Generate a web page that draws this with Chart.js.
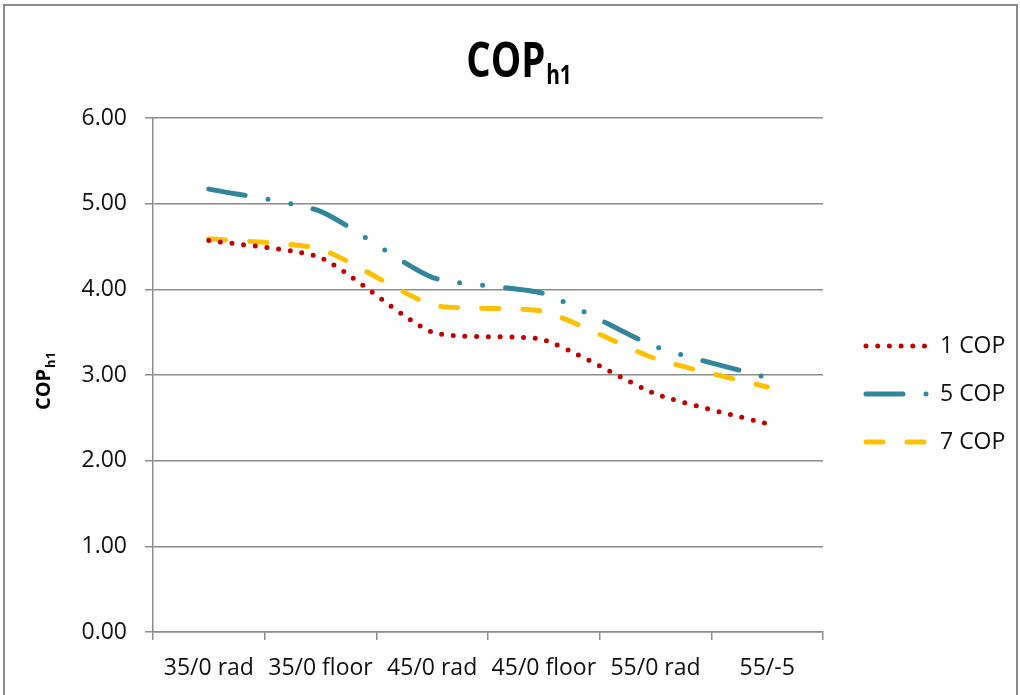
<!DOCTYPE html>
<html>
<head>
<meta charset="utf-8">
<title>COPh1</title>
<script src="https://cdn.jsdelivr.net/npm/chart.js@4.4.1/dist/chart.umd.min.js"></script>
<style>
  html, body { margin: 0; padding: 0; background: #fff; }
  #wrap { width: 1020px; height: 695px; }
</style>
</head>
<body>
<div id="wrap"><canvas id="copChart" width="1020" height="695"></canvas></div>
<script>
// Data
const categories = ['35/0 rad', '35/0 floor', '45/0 rad', '45/0 floor', '55/0 rad', '55/-5'];
const cop1 = [4.57, 4.37, 3.50, 3.41, 2.78, 2.43];
const cop5 = [5.17, 4.91, 4.14, 3.95, 3.33, 2.97];
const cop7 = [4.59, 4.47, 3.82, 3.74, 3.19, 2.86];
const seriesNames = ['1 COP', '5 COP', '7 COP'];
const yMin = 0, yMax = 6, yStep = 1;

const gridGray = '#8c8c8c';
const textColor = '#111';
const labelFont = "'Open Sans', 'DejaVu Sans', sans-serif";

// draws "main" followed by a subscript, centred on cx (sx = horizontal squeeze)
function drawSubText(ctx, main, sub, cx, baseY, mainFont, subFont, subDrop, sx) {
    sx = sx || 1;
    ctx.font = mainFont;
    const w1 = ctx.measureText(main).width;
    ctx.font = subFont;
    const w2 = ctx.measureText(sub).width;
    ctx.save();
    ctx.translate(cx, baseY);
    ctx.scale(sx, 1);
    const x0 = -(w1 + w2 + 1) / 2;
    ctx.textAlign = 'left';
    ctx.textBaseline = 'alphabetic';
    ctx.font = mainFont;
    ctx.fillText(main, x0, 0);
    ctx.font = subFont;
    ctx.fillText(sub, x0 + w1 + 1, subDrop);
    ctx.restore();
}

const decorPlugin = {
    id: 'decor',
    beforeDraw(chart) {
        const ctx = chart.ctx;
        ctx.save();
        ctx.fillStyle = '#fff';
        ctx.fillRect(0, 0, chart.width, chart.height);
        ctx.strokeStyle = '#8c8c8c';
        ctx.lineWidth = 2;
        ctx.strokeRect(4, 5, chart.width - 7, chart.height + 10);
        ctx.restore();
    },
    afterDraw(chart) {
        const ctx = chart.ctx;
        ctx.save();
        ctx.fillStyle = '#000';

        // Chart title
        drawSubText(ctx, 'COP', 'h1', 519, 77,
            "bold 48px " + labelFont, "bold 26px " + labelFont, 7, 0.8);

        // Y axis title (rotated)
        ctx.translate(50, 381);
        ctx.rotate(-Math.PI / 2);
        drawSubText(ctx, 'COP', 'h1', 0, 0,
            "bold 20px " + labelFont, "bold 13px " + labelFont, 5, 1);
        ctx.restore();

        // Legend on the right
        ctx.save();
        const rows = [346, 394, 442];
        chart.data.datasets.forEach((ds, i) => {
            const y = rows[i];
            ctx.strokeStyle = ds.borderColor;
            ctx.lineWidth = ds.borderWidth;
            ctx.lineCap = 'round';
            ctx.setLineDash(ds.borderDash);
            ctx.beginPath();
            ctx.moveTo(866, y);
            ctx.lineTo(927, y);
            ctx.stroke();
            ctx.setLineDash([]);
            ctx.fillStyle = textColor;
            ctx.font = '23px ' + labelFont;
            ctx.textAlign = 'left';
            ctx.textBaseline = 'middle';
            ctx.fillText(ds.label, 940, y);
        });
        ctx.restore();
    }
};

const ctx = document.getElementById('copChart').getContext('2d');
const copChart = new Chart(ctx, {
    type: 'line',
    data: {
        labels: categories,
        datasets: [{
            label: seriesNames[0],
            data: cop1,
            borderColor: '#C00000',
            borderWidth: 5,
            borderDash: [0, 11.7],
            borderCapStyle: 'round',
            tension: 0.2,
            pointRadius: 0,
            fill: false
        }, {
            label: seriesNames[1],
            data: cop5,
            borderColor: '#31859C',
            borderWidth: 5,
            borderDash: [37, 23, 0, 23, 0, 23],
            borderCapStyle: 'round',
            tension: 0.2,
            pointRadius: 0,
            fill: false
        }, {
            label: seriesNames[2],
            data: cop7,
            borderColor: '#FFC000',
            borderWidth: 5,
            borderDash: [17, 24],
            borderCapStyle: 'round',
            tension: 0.2,
            pointRadius: 0,
            fill: false
        }]
    },
    options: {
        responsive: false,
        animation: false,
        layout: {
            padding: { left: 0, top: 118, right: 197, bottom: 0 }
        },
        plugins: {
            legend: { display: false },
            title: { display: false },
            tooltip: { enabled: false }
        },
        scales: {
            x: {
                offset: true,
                grid: {
                    offset: true,
                    drawOnChartArea: false,
                    drawTicks: true,
                    tickLength: 8,
                    color: gridGray,
                    lineWidth: 1.5
                },
                border: { display: true, color: gridGray, width: 1.5 },
                ticks: {
                    autoSkip: false,
                    maxRotation: 0,
                    minRotation: 0,
                    padding: 15,
                    color: textColor,
                    font: { family: labelFont, size: 23 }
                },
                afterFit(scale) { scale.height = 63; }
            },
            y: {
                min: yMin,
                max: yMax,
                ticks: {
                    stepSize: yStep,
                    padding: 18,
                    color: textColor,
                    font: { family: labelFont, size: 23 },
                    callback: v => Number(v).toFixed(2)
                },
                grid: {
                    color: gridGray,
                    lineWidth: 1.5,
                    tickLength: 8
                },
                border: { display: true, color: gridGray, width: 1.5 },
                afterFit(scale) { scale.width = 153; }
            }
        }
    },
    plugins: [decorPlugin]
});
</script>
</body>
</html>
